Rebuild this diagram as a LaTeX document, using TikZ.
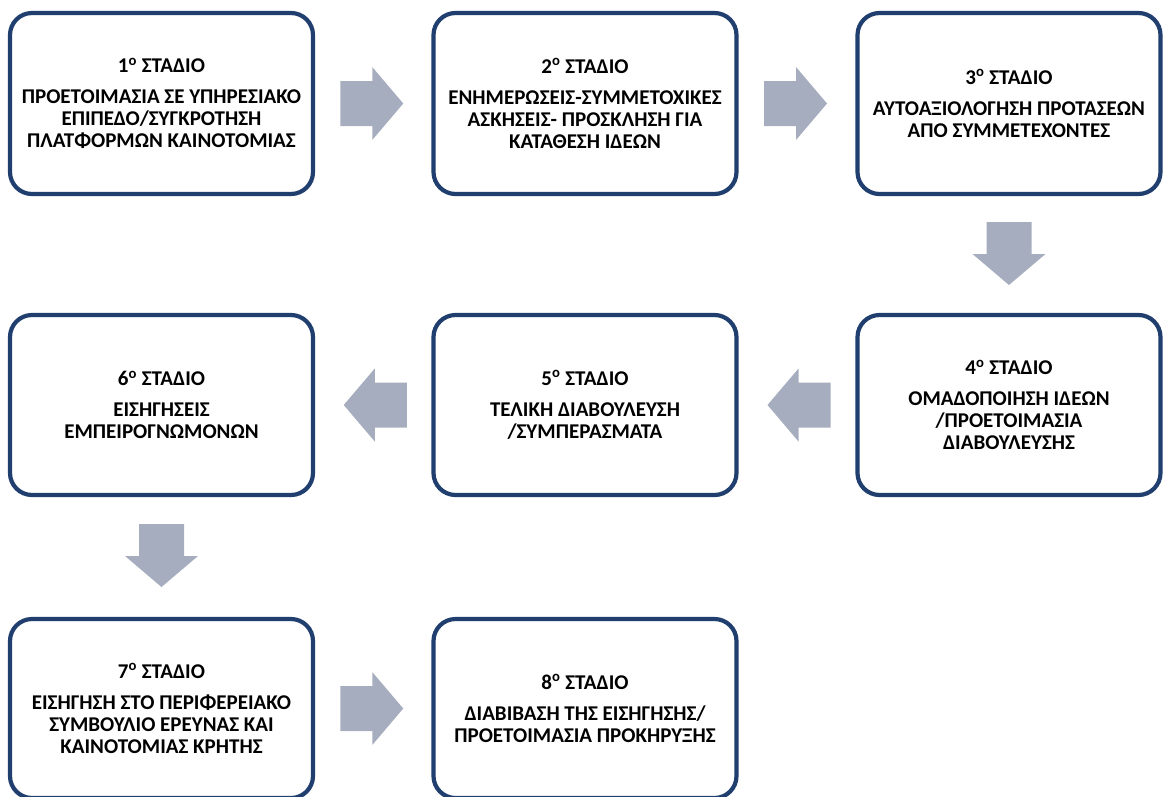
\documentclass[tikz,border=0pt]{standalone}
\usepackage{fontspec}
\usetikzlibrary{calc}
\setmainfont{Carlito}[BoldFont={Carlito Bold}]
\definecolor{boxblue}{HTML}{203F6F}
\definecolor{arrowgray}{HTML}{A6ADBE}
\tikzset{
  stagebox/.style={draw=boxblue, line width=4.2pt, rounded corners=22pt, fill=white,
    minimum width=303pt, align=center, inner sep=0pt,
    font=\fontsize{21}{22}\selectfont\bfseries},
  blockarrow/.style={fill=arrowgray, draw=none}
}
% block arrow centred at a coordinate, pointing in a given direction (canvas angle)
\newcommand{\blockarr}[2]{%
  \fill[blockarrow, shift={(#1)}, rotate=#2]
    (-31.5pt,-22.5pt) -- (0.5pt,-22.5pt) -- (0.5pt,-36.5pt) -- (31.5pt,0pt) -- (0.5pt,36.5pt) -- (0.5pt,22.5pt) -- (-31.5pt,22.5pt) -- cycle;}
\begin{document}
\begin{tikzpicture}[x=1pt,y=-1pt]
\useasboundingbox (0,0) rectangle (1165,796);
\clip (0,0) rectangle (1165,796);
\node[stagebox, minimum height=181pt] (b1) at (161.5,103.5)
  {1\textsuperscript{ο} ΣΤΑΔΙΟ\\[9pt]ΠΡΟΕΤΟΙΜΑΣΙΑ ΣΕ ΥΠΗΡΕΣΙΑΚΟ\\ΕΠΙΠΕΔΟ/ΣΥΓΚΡΟΤΗΣΗ\\ΠΛΑΤΦΟΡΜΩΝ ΚΑΙΝΟΤΟΜΙΑΣ};
\node[stagebox, minimum height=181pt] (b2) at (585,103.5)
  {2\textsuperscript{ο} ΣΤΑΔΙΟ\\[9pt]ΕΝΗΜΕΡΩΣΕΙΣ-ΣΥΜΜΕΤΟΧΙΚΕΣ\\ΑΣΚΗΣΕΙΣ- ΠΡΟΣΚΛΗΣΗ ΓΙΑ\\ΚΑΤΑΘΕΣΗ ΙΔΕΩΝ};
\node[stagebox, minimum height=181pt] (b3) at (1009,103.5)
  {3\textsuperscript{ο} ΣΤΑΔΙΟ\\[9pt]ΑΥΤΟΑΞΙΟΛΟΓΗΣΗ ΠΡΟΤΑΣΕΩΝ\\ΑΠΟ ΣΥΜΜΕΤΕΧΟΝΤΕΣ};
\node[stagebox, minimum height=180pt] (b4) at (1009,405)
  {4\textsuperscript{ο} ΣΤΑΔΙΟ\\[9pt]ΟΜΑΔΟΠΟΙΗΣΗ ΙΔΕΩΝ\\/ΠΡΟΕΤΟΙΜΑΣΙΑ\\ΔΙΑΒΟΥΛΕΥΣΗΣ};
\node[stagebox, minimum height=180pt] (b5) at (585,405)
  {5\textsuperscript{ο} ΣΤΑΔΙΟ\\[9pt]ΤΕΛΙΚΗ ΔΙΑΒΟΥΛΕΥΣΗ\\/ΣΥΜΠΕΡΑΣΜΑΤΑ};
\node[stagebox, minimum height=180pt] (b6) at (161.5,405)
  {6\textsuperscript{ο} ΣΤΑΔΙΟ\\[9pt]ΕΙΣΗΓΗΣΕΙΣ\\ΕΜΠΕΙΡΟΓΝΩΜΟΝΩΝ};
\node[stagebox, minimum height=179pt] (b7) at (161.5,708.5)
  {7\textsuperscript{ο} ΣΤΑΔΙΟ\\[9pt]ΕΙΣΗΓΗΣΗ ΣΤΟ ΠΕΡΙΦΕΡΕΙΑΚΟ\\ΣΥΜΒΟΥΛΙΟ ΕΡΕΥΝΑΣ ΚΑΙ\\ΚΑΙΝΟΤΟΜΙΑΣ ΚΡΗΤΗΣ};
\node[stagebox, minimum height=179pt] (b8) at (585,708.5)
  {8\textsuperscript{ο} ΣΤΑΔΙΟ\\[9pt]ΔΙΑΒΙΒΑΣΗ ΤΗΣ ΕΙΣΗΓΗΣΗΣ/\\ΠΡΟΕΤΟΙΜΑΣΙΑ ΠΡΟΚΗΡΥΞΗΣ};
% block arrows between stages
\coordinate (a12) at ($(b1.east)!0.5!(b2.west)+(-1.5,0)$);
\coordinate (a23) at ($(b2.east)!0.5!(b3.west)+(-1.5,0)$);
\coordinate (a34) at ($(b3.south)!0.5!(b4.north)+(0,-1)$);
\coordinate (a45) at ($(b4.west)!0.5!(b5.east)+(2,0)$);
\coordinate (a56) at ($(b5.west)!0.5!(b6.east)+(2,0)$);
\coordinate (a67) at ($(b6.south)!0.5!(b7.north)+(0,-1.5)$);
\coordinate (a78) at ($(b7.east)!0.5!(b8.west)+(-1.5,0)$);
\blockarr{a12}{0}
\blockarr{a23}{0}
\blockarr{a34}{-90}
\blockarr{a45}{180}
\blockarr{a56}{180}
\blockarr{a67}{-90}
\blockarr{a78}{0}
\end{tikzpicture}
\end{document}
